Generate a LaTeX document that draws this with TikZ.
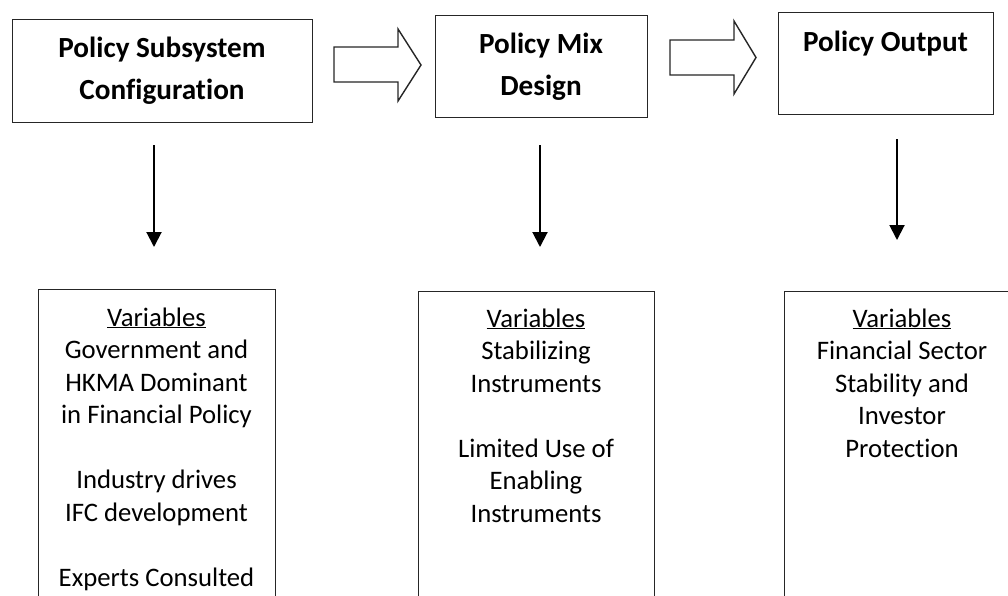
\documentclass[tikz,border=0pt]{standalone}
\usepackage{fontspec}
\setmainfont{Carlito}[Ligatures=NoCommon]
\usetikzlibrary{arrows.meta}

\tikzset{
  frame/.style={draw=black!85, line width=1.3pt, inner sep=0pt, anchor=north west},
  hollowarrow/.style={draw=black!85, line width=1.4pt, line join=miter, fill=white},
  downarrow/.style={line width=2pt, -{Triangle[width=15pt,length=15pt]}},
  headtext/.style={anchor=base, inner sep=0pt, font=\fontsize{29.2}{42}\selectfont\bfseries},
  bodytext/.style={anchor=base, inner sep=0pt, font=\fontsize{26.7}{32.5}\selectfont},
}

\newcommand{\stack}[1]{\begin{tabular}[t]{@{}c@{}}#1\end{tabular}}

\begin{document}
\begin{tikzpicture}[x=1pt,y=-1pt]
\useasboundingbox (0,0) rectangle (1008,595);
\clip (0,0) rectangle (1008,595);

% top row: stages of the policy process
\node[frame, minimum width=300pt, minimum height=103pt] (cfg) at (12,19) {};
\node[frame, minimum width=212pt, minimum height=102pt] (mix) at (435,15) {};
\node[frame, minimum width=215pt, minimum height=102pt] (out) at (778,12) {};

\node[headtext] (cfgtxt) at (162,57) {\stack{Policy Subsystem\\Configuration}};
\node[headtext] (mixtxt) at (541,53) {\stack{Policy Mix\\Design}};
\node[headtext] (outtxt) at (885.5,51) {Policy Output};

% block arrows between the stages
\draw[hollowarrow] (334,47) -- (398,47) -- (398,29) -- (421,65) -- (398,101) -- (398,82) -- (334,82) -- cycle;
\draw[hollowarrow] (670,40) -- (734,40) -- (734,21) -- (756,57.5) -- (734,94) -- (734,75) -- (670,75) -- cycle;

% bottom row: variables of each stage
\node[frame, minimum width=237pt, minimum height=340pt] (cfgvar) at (38,289) {};
\node[frame, minimum width=236pt, minimum height=340pt] (mixvar) at (418,291) {};
\node[frame, minimum width=236pt, minimum height=340pt] (outvar) at (784,291) {};

\node[bodytext] (cfgvartxt) at (156.5,326) {\stack{\underline{Variables}\\Government and\\HKMA Dominant\\in Financial Policy\\ \\Industry drives\\IFC development\\ \\Experts Consulted}};
\node[bodytext] (mixvartxt) at (536,327) {\stack{\underline{Variables}\\Stabilizing\\Instruments\\ \\Limited Use of\\Enabling\\Instruments}};
\node[bodytext] (outvartxt) at (902,327) {\stack{\underline{Variables}\\Financial Sector\\Stability and\\Investor\\Protection}};

% downward arrows from each stage to its variables
\coordinate (d1s) at (154,145);
\coordinate (d1e) at (154,247);
\coordinate (d2s) at (540,145);
\coordinate (d2e) at (540,247);
\coordinate (d3s) at (897,139);
\coordinate (d3e) at (897,240);
\draw[downarrow] (d1s) -- (d1e);
\draw[downarrow] (d2s) -- (d2e);
\draw[downarrow] (d3s) -- (d3e);
\end{tikzpicture}
\end{document}
